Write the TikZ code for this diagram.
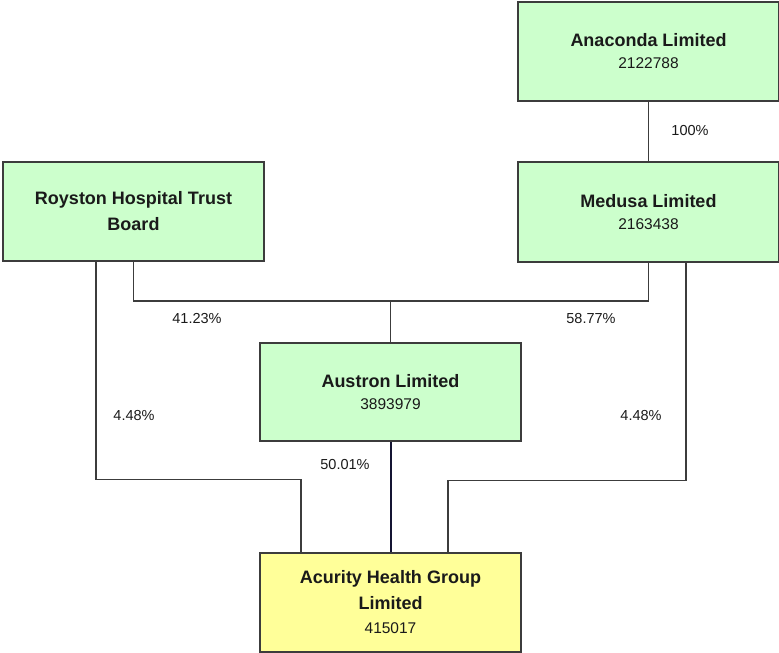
\documentclass[tikz,border=0pt]{standalone}
\usepackage{fontspec}
\setmainfont{Liberation Sans}
\usetikzlibrary{positioning}
\definecolor{entgreen}{HTML}{CCFFCC}
\definecolor{entyellow}{HTML}{FFFF99}
\definecolor{edgegray}{HTML}{3C3C3C}
\definecolor{inkdark}{HTML}{1A1A1A}
\definecolor{mainlink}{HTML}{141432}
\newcommand{\entname}[1]{{\fontsize{18}{24}\selectfont\bfseries #1}}
\newcommand{\entnum}[1]{{\fontsize{15.5}{24}\selectfont #1}}
\tikzset{
  entity/.style={draw=edgegray, line width=1.2pt, fill=entgreen, minimum width=261pt,
    minimum height=99pt, align=center, text=inkdark, inner sep=0pt,
    font=\fontsize{14.5}{24}\selectfont},
  parent/.style={entity, fill=entyellow},
  link/.style={draw=edgegray, line width=1.1pt},
  keylink/.style={draw=mainlink, line width=2pt},
  pct/.style={text=inkdark, font=\fontsize{14.5}{17}\selectfont, inner sep=0pt}
}
\begin{document}
\begin{tikzpicture}[x=1pt,y=-1pt]
\useasboundingbox (0,0) rectangle (779,653);
% entities
\node[entity] (anaconda) at (648.5,51.5) {\entname{Anaconda Limited}\\[-2pt]\entnum{2122788}};
\node[entity, minimum height=100pt] (medusa) at (648.5,212) {\entname{Medusa Limited}\\[-2pt]\entnum{2163438}};
\node[entity] (royston) at (133.5,211.5) {\entname{Royston Hospital Trust}\\[2pt]\entname{Board}};
\node[entity, minimum height=98pt] (austron) at (390.5,392) {\entname{Austron Limited}\\[-2pt]\entnum{3893979}};
\node[parent] (acurity) at (390.5,602.5) {\entname{Acurity Health Group}\\[2pt]\entname{Limited}\\[0pt]\entnum{415017}};
% junction above Austron
\coordinate (bus) at (390.5,301);
% ownership links
\draw[link] (anaconda.south) -- (medusa.north);
\draw[link] (royston.south) |- (bus) -| (medusa.south);
\draw[link] (bus) -- (austron.north);
\draw[link] ([xshift=-37.5pt]royston.south) -- ++(0,218) -| ([xshift=-89.5pt]acurity.north);
\draw[link] ([xshift=37.5pt]medusa.south) -- ++(0,218) -| ([xshift=57.5pt]acurity.north);
\draw[keylink] (austron.south) -- (acurity.north);
% percentages
\node[pct] (p100) at (690,131) {100\%};
\node[pct] (p4123) at (197,319) {41.23\%};
\node[pct] (p5877) at (591,319) {58.77\%};
\node[pct] (p448l) at (134,416) {4.48\%};
\node[pct] (p448r) at (641,416) {4.48\%};
\node[pct] (p5001) at (345,465) {50.01\%};
\end{tikzpicture}
\end{document}
